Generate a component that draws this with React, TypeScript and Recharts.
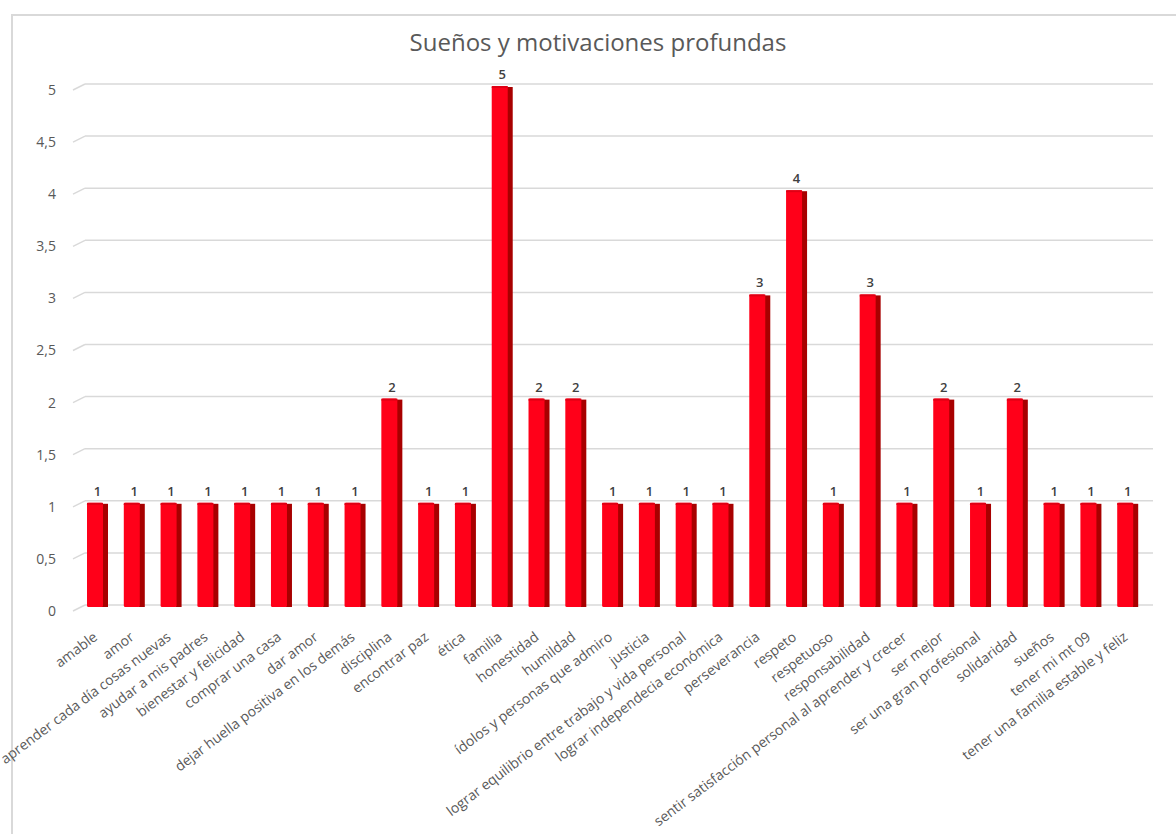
import { BarChart, Bar, XAxis, YAxis, CartesianGrid, LabelList } from "recharts";

const categories = [
  "amable",
  "amor",
  "aprender cada día cosas nuevas",
  "ayudar a mis padres",
  "bienestar y felicidad",
  "comprar una casa",
  "dar amor",
  "dejar huella positiva en los demás",
  "disciplina",
  "encontrar paz",
  "ética",
  "familia",
  "honestidad",
  "humildad",
  "ídolos y personas que admiro",
  "justicia",
  "lograr equilibrio entre trabajo  y vida personal",
  "lograr independecia económica",
  "perseverancia",
  "respeto",
  "respetuoso",
  "responsabilidad",
  "sentir satisfacción personal al aprender y crecer",
  "ser mejor",
  "ser una gran profesional",
  "solidaridad",
  "sueños",
  "tener  mi mt 09",
  "tener una familia estable y feliz",
];

const counts = [1, 1, 1, 1, 1, 1, 1, 1, 2, 1, 1, 5, 2, 2, 1, 1, 1, 1, 3, 4, 1, 3, 1, 2, 1, 2, 1, 1, 1];

const yTicks = [0, 0.5, 1, 1.5, 2, 2.5, 3, 3.5, 4, 4.5, 5];

const data = categories.map((name, i) => ({ name, value: counts[i] }));

const FONT = "'Open Sans', Lato, sans-serif";
const TEXT = "#595959";

// front face + dark side to mimic the 3D column look
const Column3D = (props: any) => {
  const { x, y, width, height } = props;
  if (!height || height <= 0) return null;
  const side = 5;
  const front = width - side;
  return (
    <g>
      <rect x={x + front - 1} y={y + 1} width={side + 1} height={height - 1} fill="#a80000" />
      <rect x={x} y={y} width={front} height={height} rx={1.5} fill="#ff0019" />
      <rect x={x} y={y} width={front} height={2} fill="#e00014" />
    </g>
  );
};

const CategoryTick = (props: any) => {
  const { x, y, payload } = props;
  return (
    <g transform={`translate(${x - 2},${y + 20}) rotate(-37)`}>
      <text textAnchor="end" dy="0.35em" fontSize={14} fontFamily={FONT} fill={TEXT}>
        {payload.value}
      </text>
    </g>
  );
};

// grid lines drawn with the small perspective step of the original
const GridLine = (props: any) => {
  const { x1, x2, y1 } = props;
  return (
    <g>
      <line x1={x1 - 6} y1={y1 + 4} x2={x1 + 6} y2={y1 - 2} stroke="#d9d9d9" strokeWidth={1.5} />
      <line x1={x1 + 6} y1={y1 - 2} x2={x2 + 7} y2={y1 - 2} stroke="#d9d9d9" strokeWidth={1.5} />
    </g>
  );
};

export default function App() {
  return (
    <div style={{ position: "absolute", left: 0, top: 0, width: 1176, height: 834, background: "#fff", overflow: "hidden" }}>
      <div
        style={{
          position: "absolute",
          left: 11,
          top: 14,
          width: 1300,
          height: 900,
          borderLeft: "2px solid #d9d9d9",
          borderTop: "2px solid #d9d9d9",
        }}
      />
      <div
        style={{
          position: "absolute",
          left: 0,
          top: 25,
          width: 1196,
          textAlign: "center",
          fontFamily: FONT,
          fontSize: 24,
          color: TEXT,
        }}
      >
        Sueños y motivaciones profundas
      </div>
      <div style={{ position: "absolute", left: 0, top: 0 }}>
        <BarChart width={1176} height={834} data={data} margin={{ top: 86, right: 30, bottom: 0, left: 0 }}>
          <CartesianGrid vertical={false} horizontal={GridLine} />
          <XAxis
            dataKey="name"
            interval={0}
            axisLine={false}
            tickLine={false}
            height={227}
            tick={<CategoryTick />}
          />
          <YAxis
            domain={[0, 5]}
            ticks={yTicks}
            width={79}
            axisLine={false}
            tickLine={false}
            tickMargin={17}
            tickFormatter={(v: number) => String(v).replace(".", ",")}
            tick={{ fontSize: 14, fontFamily: FONT, fill: TEXT, dy: 4 }}
          />
          <Bar dataKey="value" barSize={21} shape={<Column3D />} isAnimationActive={false}>
            <LabelList dataKey="value" position="top" offset={7} fontSize={13} fontWeight={600} fontFamily={FONT} fill="#404040" />
          </Bar>
        </BarChart>
      </div>
    </div>
  );
}
